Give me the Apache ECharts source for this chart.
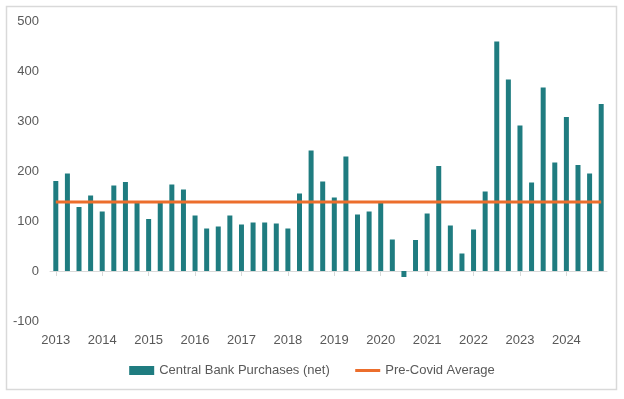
<!DOCTYPE html>
<html lang="en">
<head>
<meta charset="UTF-8">
<title>Central Bank Purchases</title>
<script src="https://cdn.jsdelivr.net/npm/echarts@6/dist/echarts.min.js"></script>
<style>
  html, body { margin: 0; padding: 0; background: #fff; }
  #chart { width: 624px; height: 399px; }
</style>
</head>
<body>
<div id="chart"></div>
<script>
// 数据: quarterly, 2013 Q1 .. 2024 Q4
var years = ['2013','2014','2015','2016','2017','2018','2019','2020','2021','2022','2023','2024'];
var quarters = [];
years.forEach(function (y) {
  ['Q1','Q2','Q3','Q4'].forEach(function (q) { quarters.push(y + ' ' + q); });
});
var purchases = [
  180, 195, 128, 151,   // 2013
  119, 171, 178, 137,   // 2014
  104, 136, 173, 163,   // 2015
  111, 85, 89, 111,     // 2016
  93, 97, 97, 95,       // 2017
  85, 155, 241, 179,    // 2018
  147, 229, 113, 119,   // 2019
  137, 63, -12, 62,     // 2020
  115, 210, 91, 35,     // 2021
  83, 159, 459, 383,    // 2022
  291, 177, 367, 217,   // 2023
  308, 212, 195, 334    // 2024
];
var preCovidAverage = 138;
var avgLine = quarters.map(function () { return preCovidAverage; });
var yTicks = { min: -100, max: 500, step: 100 };

var txt = '#595959';
var fontFam = 'Liberation Sans, Arial, sans-serif';

var chart = echarts.init(document.getElementById('chart'));
chart.setOption({
  animation: false,
  textStyle: { fontFamily: fontFam },
  grid: { left: 50, right: 17, top: 21, bottom: 78 },
  legend: {
    top: 359,
    left: 'center',
    itemWidth: 25,
    itemHeight: 9,
    itemGap: 24,
    textStyle: { color: txt, fontSize: 13, fontFamily: fontFam },
    data: [
      { name: 'Central Bank Purchases (net)', icon: 'rect' },
      { name: 'Pre-Covid Average', itemStyle: { opacity: 0 }, lineStyle: { width: 3 } }
    ]
  },
  graphic: [{
    type: 'rect',
    shape: { x: 6.5, y: 6.5, width: 610, height: 383 },
    style: { fill: 'none', stroke: '#d9d9d9', lineWidth: 1.5 },
    silent: true
  }],
  xAxis: [{
    type: 'category',
    data: quarters,
    boundaryGap: true,
    axisLine: { show: false, onZero: false },
    axisTick: { show: false },
    axisLabel: {
      interval: 3,
      margin: 13,
      color: txt,
      fontSize: 13,
      formatter: function (v) { return v.split(' ')[0]; }
    }
  }, {
    type: 'category',
    data: quarters,
    boundaryGap: true,
    position: 'bottom',
    axisLine: { show: true, onZero: true, lineStyle: { color: '#d9d9d9', width: 1 } },
    axisTick: { show: true, interval: 3, alignWithLabel: true, length: 5, lineStyle: { color: '#d9d9d9' } },
    axisLabel: { show: false }
  }],
  yAxis: {
    type: 'value',
    min: yTicks.min,
    max: yTicks.max,
    interval: yTicks.step,
    axisLine: { show: false },
    axisTick: { show: false },
    splitLine: { show: false },
    axisLabel: { color: txt, fontSize: 13, margin: 11 }
  },
  series: [{
    name: 'Central Bank Purchases (net)',
    type: 'bar',
    xAxisIndex: 0,
    data: purchases,
    barWidth: 5,
    itemStyle: { color: '#1f7c80' }
  }, {
    name: 'Pre-Covid Average',
    type: 'line',
    xAxisIndex: 0,
    data: avgLine,
    symbol: 'none',
    lineStyle: { color: '#ec6e2c', width: 3 },
    itemStyle: { color: '#ec6e2c' },
    z: 3
  }]
});
</script>
</body>
</html>
